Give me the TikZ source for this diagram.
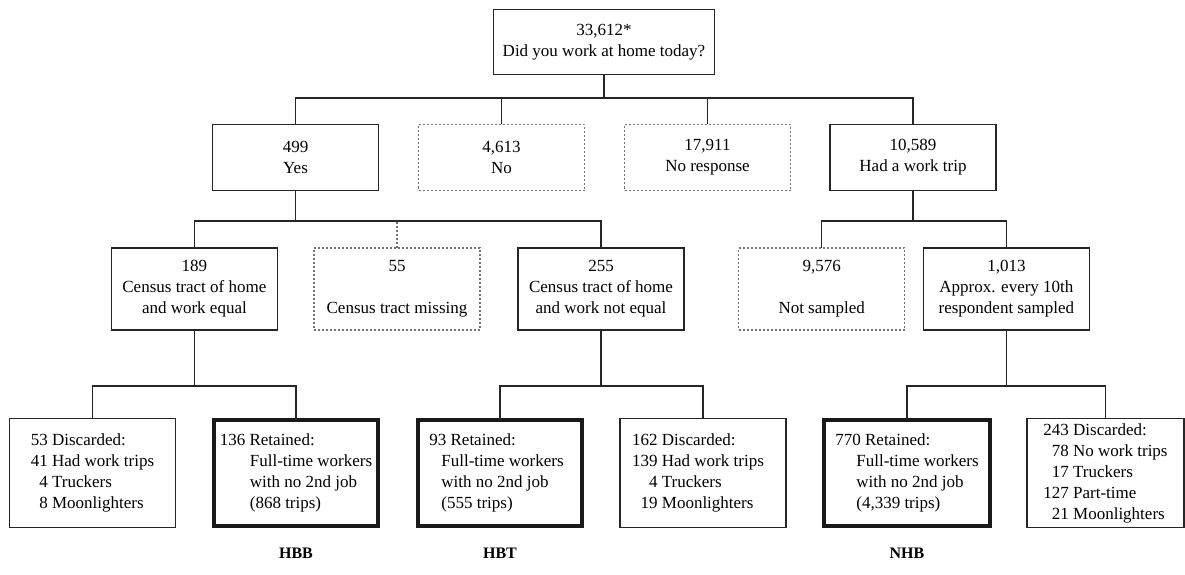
\documentclass[tikz,border=0pt]{standalone}
\usepackage{fontspec}
\setmainfont{Liberation Serif}
\begin{document}
\begin{tikzpicture}[x=1pt,y=-1pt,
  every node/.style={font=\fontsize{17}{21}\selectfont, inner sep=0pt, outer sep=0pt},
  box/.style={draw=black!85, line width=1.2pt, align=center, minimum width=#1},
  box/.default=166,
  dotbox/.style={draw=black!55, line width=1.2pt, dash pattern=on 2pt off 2pt, align=center, minimum width=166},
  thickbox/.style={draw=black!90, line width=4pt, minimum width=#1},
  thickbox/.default=164,
  lv2/.style={minimum height=66},
  lv3/.style={minimum height=82},
  lv4/.style={minimum height=109},
  lv4t/.style={minimum height=106},
  wire/.style={draw=black!85, line width=1.2pt},
  dotwire/.style={draw=black!55, line width=1.2pt, dash pattern=on 2pt off 2pt},
  lab/.style={font=\fontsize{16}{20}\selectfont\bfseries}
]
\useasboundingbox (0,0) rectangle (1185,575);

% level 1
\node[box=221, minimum height=65] (top) at (604,42) {33,612*\\Did you work at home today?};

% level 2
\node[box, lv2] (yes) at (295.5,157.5) {499\\Yes};
\node[dotbox, lv2] (no) at (501.5,157.5) {4,613\\No};
\node[dotbox, lv2] (nor) at (707.5,157.5) {17,911\\No response};
\node[box, lv2] (work) at (913,157.5) {10,589\\Had a work trip};

% level 3
\node[box, lv3] (c189) at (194.4,289) {189\\Census tract of home\\and work equal};
\node[dotbox, lv3] (c55) at (397,289) {55\\[21pt]Census tract missing};
\node[box, lv3] (c255) at (601,289) {255\\Census tract of home\\and work not equal};
\node[dotbox, lv3] (ns) at (821.7,289) {9,576\\[21pt]Not sampled};
\node[box, lv3] (s1013) at (1006.4,289) {1,013\\Approx. every 10th\\respondent sampled};

% level 4
\node[box, lv4] (d53) at (92.5,473) {\begin{tabular}{@{}r@{\ }l@{}}53&Discarded:\\41&Had work trips\\4&Truckers\\8&Moonlighters\end{tabular}};
\node[thickbox, lv4t] (r136) at (296,473) {\begin{tabular}{@{}l@{}}136 Retained:\\\hspace*{30pt}Full-time workers\\\hspace*{30pt}with no 2nd job\\\hspace*{30pt}(868 trips)\end{tabular}};
\node[thickbox, lv4t] (r93) at (500,473) {\begin{tabular}{@{}l@{}}93 Retained:\\\hspace*{12pt}Full-time workers\\\hspace*{12pt}with no 2nd job\\\hspace*{12pt}(555 trips)\end{tabular}\hspace*{7pt}};
\node[box, lv4] (d162) at (703,473) {\begin{tabular}{@{}r@{\ }l@{}}162&Discarded:\\139&Had work trips\\4&Truckers\\19&Moonlighters\end{tabular}\hspace*{10pt}};
\node[thickbox=166, lv4t] (r770) at (907,473) {\begin{tabular}{@{}l@{}}770 Retained:\\\hspace*{21pt}Full-time workers\\\hspace*{21pt}with no 2nd job\\\hspace*{21pt}(4,339 trips)\end{tabular}};
\node[box=157, lv4] (d243) at (1105.5,473) {\begin{tabular}{@{}r@{\ }l@{}}\multicolumn{2}{@{}l@{}}{243 Discarded:}\\78&No work trips\\17&Truckers\\127&Part-time\\21&Moonlighters\end{tabular}};

% labels
\node[lab] (hbb) at (296,553) {HBB};
\node[lab] (hbt) at (500,553) {HBT};
\node[lab] (nhb) at (907,553) {NHB};

% bus levels
\coordinate (b1) at (0,98);
\coordinate (b2) at (0,221);
\coordinate (b3) at (0,386);

% connectors level 1 -> 2
\draw[wire] (top.south) -- (top.south |- b1);
\draw[wire] (yes.north) -- (yes.north |- b1) -- (work.north |- b1) -- (work.north);
\draw[wire] (no.north) -- (no.north |- b1);
\draw[wire] (nor.north) -- (nor.north |- b1);

% level 2 -> 3
\draw[wire] (yes.south) -- (yes.south |- b2);
\draw[wire] (c189.north) -- (c189.north |- b2) -- (c255.north |- b2) -- (c255.north);
\draw[dotwire] (c55.north) -- (c55.north |- b2);
\draw[wire] (work.south) -- (work.south |- b2);
\draw[wire] (ns.north) -- (ns.north |- b2) -- (s1013.north |- b2) -- (s1013.north);

% level 3 -> 4
\draw[wire] (c189.south) -- (c189.south |- b3);
\draw[wire] (d53.north) -- (d53.north |- b3) -- (r136.north |- b3) -- (r136.north);
\draw[wire] (c255.south) -- (c255.south |- b3);
\draw[wire] (r93.north) -- (r93.north |- b3) -- (d162.north |- b3) -- (d162.north);
\draw[wire] (s1013.south) -- (s1013.south |- b3);
\draw[wire] (r770.north) -- (r770.north |- b3) -- (d243.north |- b3) -- (d243.north);
\end{tikzpicture}
\end{document}
